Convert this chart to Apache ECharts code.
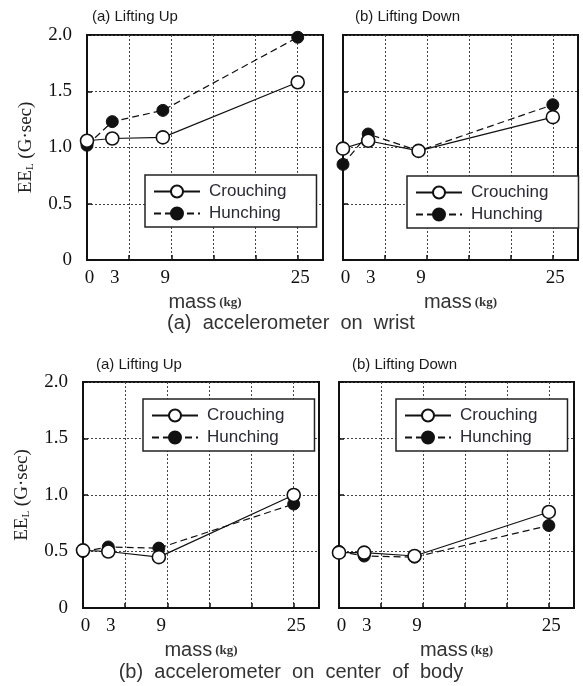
<!DOCTYPE html>
<html>
<head>
<meta charset="utf-8">
<script src="https://cdn.jsdelivr.net/npm/echarts@6/dist/echarts.min.js"></script>
<style>
  html, body { margin: 0; padding: 0; background: #fff; }
  #chart { width: 583px; height: 686px; }
</style>
</head>
<body>
<div id="chart"></div>
<script>
// Lifted mass (kg) and the tick labels on each mass axis
const massKg = [0, 3, 9, 25];
const massTickLabels = [0, 3, 9, 25];
const massGridValues = [5, 10, 15, 20, 25];

// EE_L (G·sec), accelerometer on wrist
const wristUpCrouching = [1.06, 1.08, 1.09, 1.58];
const wristUpHunching = [1.02, 1.23, 1.33, 1.98];
const wristDownCrouching = [0.99, 1.06, 0.97, 1.27];
const wristDownHunching = [0.85, 1.12, 0.97, 1.38];

// EE_L (G·sec), accelerometer on center of body
const bodyUpCrouching = [0.51, 0.50, 0.45, 1.00];
const bodyUpHunching = [0.50, 0.54, 0.53, 0.92];
const bodyDownCrouching = [0.49, 0.49, 0.46, 0.85];
const bodyDownHunching = [0.50, 0.46, 0.45, 0.73];

const postureNames = ['Crouching', 'Hunching'];
const panelTitles = ['(a) Lifting Up', '(b) Lifting Down', '(a) Lifting Up', '(b) Lifting Down'];
const captions = ['(a)  accelerometer  on  wrist', '(b)  accelerometer  on  center  of  body'];

const panelValues = [
  [wristUpCrouching, wristUpHunching],
  [wristDownCrouching, wristDownHunching],
  [bodyUpCrouching, bodyUpHunching],
  [bodyDownCrouching, bodyDownHunching]
];

// Panel geometry (px)
const grids = [
  { left: 87, top: 35, width: 236, height: 225 },
  { left: 343, top: 35, width: 235, height: 225 },
  { left: 83, top: 382, width: 236, height: 226 },
  { left: 339, top: 382, width: 235, height: 226 }
];
const legendBoxes = [
  { left: 145, top: 175 },
  { left: 407, top: 176 },
  { left: 143, top: 399 },
  { left: 396, top: 399 }
];
const titleSpots = [
  { left: 92, top: 9 },
  { left: 355, top: 9 },
  { left: 96, top: 357 },
  { left: 352, top: 357 }
];

const SERIF = '"Liberation Serif", "DejaVu Serif", serif';
const SANS = '"Liberation Sans", Arial, sans-serif';
const INK = '#111';

const xAxes = grids.map((g, i) => ({
  type: 'value',
  gridIndex: i,
  min: 0,
  max: 28,
  interval: 5,
  name: '{m|mass}{k|(kg)}',
  nameLocation: 'middle',
  nameGap: 32,
  nameTextStyle: {
    rich: {
      m: { fontFamily: SANS, fontSize: 20, color: '#333' },
      k: { fontFamily: SERIF, fontWeight: 'bold', fontSize: 13, color: '#333', padding: [2, 0, 0, 3] }
    }
  },
  axisLine: { show: true, onZero: false, lineStyle: { color: INK, width: 2 } },
  axisTick: { show: true, inside: true, length: 5, customValues: massGridValues, lineStyle: { color: INK, width: 1.5 } },
  axisLabel: {
    customValues: massTickLabels,
    fontFamily: SERIF, fontSize: 19, color: INK, margin: 9,
    padding: [0, 0, 0, 5]
  },
  splitLine: { show: true, lineStyle: { color: '#444', width: 1, type: [2, 2] } }
}));

const yAxes = grids.map((g, i) => ({
  type: 'value',
  gridIndex: i,
  min: 0,
  max: 2,
  interval: 0.5,
  name: (i % 2 === 0) ? '{a|EE}{s|L}{a| (G·sec)}' : '',
  nameLocation: 'middle',
  nameRotate: 90,
  nameGap: 51,
  nameTextStyle: {
    rich: {
      a: { fontFamily: SERIF, fontSize: 19, color: '#222' },
      s: { fontFamily: SERIF, fontSize: 11, color: '#222', verticalAlign: 'bottom', padding: [6, 0, 0, 0] }
    }
  },
  axisLine: { show: true, lineStyle: { color: INK, width: 2 } },
  axisTick: { show: true, inside: true, length: 5, lineStyle: { color: INK, width: 1.5 } },
  axisLabel: {
    show: i % 2 === 0,
    fontFamily: SERIF, fontSize: 19, color: INK, margin: 15,
    formatter: v => (v === 0 ? '0' : v.toFixed(1))
  },
  splitLine: { show: true, lineStyle: { color: '#444', width: 1, type: [2, 2] } }
}));

const series = [];
panelValues.forEach((pair, i) => {
  // Hunching underneath, Crouching (open circles) on top
  series.push({
    name: postureNames[1],
    type: 'line',
    xAxisIndex: i,
    yAxisIndex: i,
    data: massKg.map((m, k) => [m, pair[1][k]]),
    symbol: 'circle',
    symbolSize: 12,
    z: 2,
    itemStyle: { color: INK, borderColor: INK, borderWidth: 1 },
    lineStyle: { color: INK, width: 1.2, type: [7, 4] },
    emphasis: { disabled: true }
  });
  series.push({
    name: postureNames[0],
    type: 'line',
    xAxisIndex: i,
    yAxisIndex: i,
    data: massKg.map((m, k) => [m, pair[0][k]]),
    symbol: 'circle',
    symbolSize: 13,
    z: 3,
    itemStyle: { color: '#fff', borderColor: INK, borderWidth: 1.6 },
    lineStyle: { color: INK, width: 1.2, type: 'solid' },
    emphasis: { disabled: true }
  });
});

const legends = legendBoxes.map(b => ({
  data: postureNames,
  orient: 'vertical',
  left: b.left,
  top: b.top,
  padding: [8, 30, 5, 8],
  itemGap: 5,
  itemWidth: 46,
  itemHeight: 15,
  selectedMode: false,
  backgroundColor: '#fff',
  borderColor: '#222',
  borderWidth: 1.5,
  borderRadius: 0,
  textStyle: { fontFamily: SANS, fontSize: 17, color: '#2a2a35', padding: [0, 0, 0, 4] }
}));

const titles = panelTitles.map((t, i) => ({
  text: t,
  left: titleSpots[i].left,
  top: titleSpots[i].top,
  padding: 0,
  textStyle: { fontFamily: SANS, fontSize: 15, fontWeight: 'normal', color: '#1a1a1a' }
})).concat([
  {
    text: captions[0], left: 291, top: 313, textAlign: 'center', padding: 0,
    textStyle: { fontFamily: SANS, fontSize: 20, fontWeight: 'normal', color: '#333' }
  },
  {
    text: captions[1], left: 291, top: 662, textAlign: 'center', padding: 0,
    textStyle: { fontFamily: SANS, fontSize: 20, fontWeight: 'normal', color: '#333' }
  }
]);

const chart = echarts.init(document.getElementById('chart'), null, { renderer: 'canvas' });
chart.setOption({
  animation: false,
  backgroundColor: '#fff',
  title: titles,
  legend: legends,
  grid: grids.map(g => Object.assign({ show: true, borderColor: INK, borderWidth: 2, backgroundColor: 'transparent', containLabel: false }, g)),
  xAxis: xAxes,
  yAxis: yAxes,
  series: series
});
</script>
</body>
</html>
